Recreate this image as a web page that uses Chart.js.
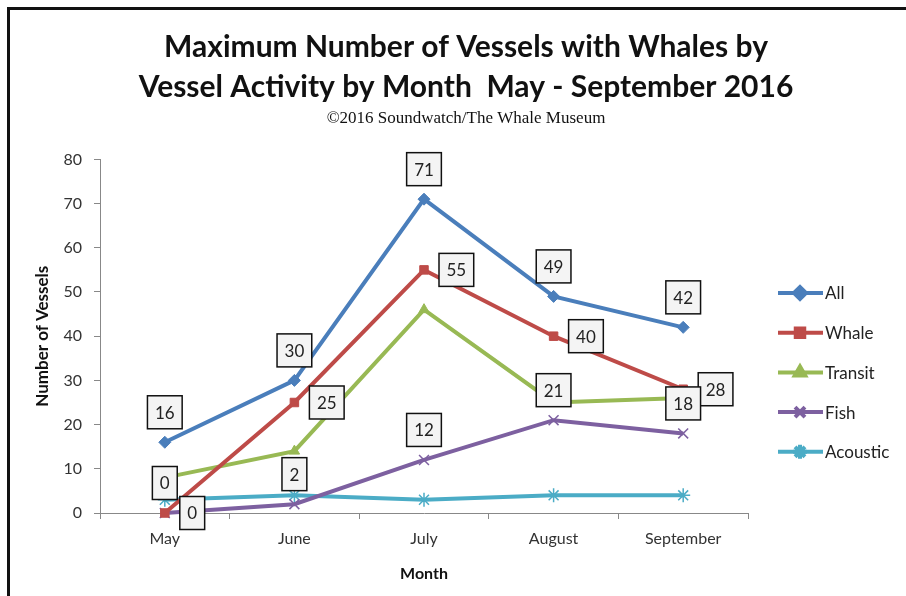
<!DOCTYPE html>
<html>
<head>
<meta charset="utf-8">
<script src="https://cdn.jsdelivr.net/npm/chart.js@4/dist/chart.umd.min.js"></script>
<style>
  html, body { margin: 0; padding: 0; background: #fff; overflow: hidden; }
  #frame {
    position: absolute; left: 7px; top: 7px;
    width: 1000px; height: 1000px;
    border: 3px solid #111;
  }
  #wrap { position: absolute; left: 0; top: 0; width: 906px; height: 596px; }
</style>
</head>
<body>
<div id="frame"></div>
<div id="wrap"><canvas id="vessels"></canvas></div>
<script>
const months = ['May', 'June', 'July', 'August', 'September'];
const allVessels = [16, 30, 71, 49, 42];
const whaleVessels = [0, 25, 55, 40, 28];
const transitVessels = [8, 14, 46, 25, 26];
const fishVessels = [0, 2, 12, 21, 18];
const acousticVessels = [3, 4, 3, 4, 4];

// which series get value boxes, and on which side of the point
const labelSide = { All: 'top', Whale: 'right', Fish: 'top' };

const FONT = 'Lato, "Open Sans", sans-serif';

function series(label, data, color, pointStyle, radius, pointBorderWidth) {
    return {
        label: label,
        data: data,
        borderColor: color,
        backgroundColor: color,
        pointBackgroundColor: color,
        pointBorderColor: color,
        borderWidth: 4,
        pointStyle: pointStyle,
        pointRadius: radius,
        pointHoverRadius: radius,
        pointBorderWidth: pointBorderWidth,
        tension: 0,
        clip: false
    };
}

// boxed value labels next to the points
const valueBoxes = {
    id: 'valueBoxes',
    afterDatasetsDraw(chart) {
        const ctx = chart.ctx;
        ctx.save();
        ctx.font = '17px ' + FONT;
        ctx.textAlign = 'center';
        ctx.textBaseline = 'middle';
        chart.data.datasets.forEach((ds, i) => {
            const side = labelSide[ds.label];
            if (!side) return;
            chart.getDatasetMeta(i).data.forEach((pt, j) => {
                const text = String(ds.data[j]);
                const w = ctx.measureText(text).width + 15;
                const h = 33;
                let cx, cy;
                if (side === 'top') {
                    cx = pt.x;
                    cy = pt.y - 30;
                } else {
                    cx = pt.x + 15 + w / 2;
                    cy = pt.y;
                }
                ctx.fillStyle = '#f4f4f4';
                ctx.fillRect(cx - w / 2, cy - h / 2, w, h);
                ctx.lineWidth = 1.5;
                ctx.strokeStyle = '#111';
                ctx.strokeRect(cx - w / 2, cy - h / 2, w, h);
                ctx.fillStyle = '#222';
                ctx.fillText(text, cx, cy + 1);
            });
        });
        ctx.restore();
    }
};

// legend on the right: line sample with the series marker
const sideLegend = {
    id: 'sideLegend',
    afterDraw(chart) {
        const ctx = chart.ctx;
        const x0 = chart.chartArea.right + 30;
        const y0 = 293;
        const gap = 39.7;
        ctx.save();
        chart.data.datasets.forEach((ds, i) => {
            const y = y0 + i * gap;
            ctx.strokeStyle = ds.borderColor;
            ctx.lineWidth = 4;
            ctx.beginPath();
            ctx.moveTo(x0, y);
            ctx.lineTo(x0 + 45, y);
            ctx.stroke();
            ctx.fillStyle = ds.pointBackgroundColor;
            ctx.strokeStyle = ds.pointBorderColor;
            Chart.helpers.drawPoint(ctx, {
                pointStyle: ds.pointStyle,
                radius: ds.pointRadius,
                borderWidth: ds.pointBorderWidth,
                rotation: 0
            }, x0 + 22, y);
            ctx.fillStyle = '#222';
            ctx.font = '17px ' + FONT;
            ctx.textAlign = 'left';
            ctx.textBaseline = 'middle';
            ctx.fillText(ds.label, x0 + 47, y + 1);
        });
        ctx.restore();
    }
};

new Chart(document.getElementById('vessels'), {
    type: 'line',
    data: {
        labels: months,
        datasets: [
            series('All', allVessels, '#4a7ebb', 'rectRot', 6, 1),
            series('Whale', whaleVessels, '#be4b48', 'rect', 6, 1),
            series('Transit', transitVessels, '#98b954', 'triangle', 6, 1),
            series('Fish', fishVessels, '#7d60a0', 'crossRot', 7, 1.5),
            series('Acoustic', acousticVessels, '#4bacc6', 'star', 7, 1.5)
        ]
    },
    options: {
        responsive: true,
        maintainAspectRatio: false,
        animation: false,
        events: [],
        layout: { padding: { left: 26, right: 0, top: 0, bottom: 0 } },
        plugins: {
            legend: { display: false },
            tooltip: { enabled: false },
            title: {
                display: true,
                text: ['Maximum Number of Vessels with Whales by', 'Vessel Activity by Month  May - September 2016'],
                color: '#111',
                font: { family: FONT, size: 30, weight: 'bold', lineHeight: 1.333 },
                padding: { top: 27, bottom: 0 }
            },
            subtitle: {
                display: true,
                text: '\u00a92016 Soundwatch/The Whale Museum',
                color: '#111',
                font: { family: '"Liberation Serif", serif', size: 17, lineHeight: 1.2 },
                padding: { top: 1, bottom: 31 }
            }
        },
        scales: {
            x: {
                offset: true,
                grid: {
                    offset: true,
                    drawOnChartArea: false,
                    drawTicks: true,
                    tickLength: 6,
                    color: '#888'
                },
                border: { color: '#888', width: 1 },
                ticks: {
                    color: '#333',
                    padding: 10,
                    font: { family: FONT, size: 16 }
                },
                title: {
                    display: true,
                    text: 'Month',
                    color: '#111',
                    font: { family: FONT, size: 16, weight: 'bold', lineHeight: 1.2 },
                    padding: { top: 0, bottom: 13 }
                },
                afterFit(scale) { scale.height = 83; }
            },
            y: {
                min: 0,
                max: 80,
                ticks: {
                    stepSize: 10,
                    color: '#333',
                    padding: 12,
                    font: { family: FONT, size: 16 }
                },
                grid: {
                    drawOnChartArea: false,
                    drawTicks: true,
                    tickLength: 6,
                    color: '#888'
                },
                border: { color: '#888', width: 1 },
                title: {
                    display: true,
                    text: 'Number of Vessels',
                    color: '#111',
                    font: { family: FONT, size: 17, weight: 'bold', lineHeight: 1.2 },
                    padding: { top: 6, bottom: 0 }
                },
                afterFit(scale) { scale.width = 74; }
            },
            // empty right-hand axis that keeps room for the legend
            legendSpace: {
                position: 'right',
                grid: { display: false },
                border: { display: false },
                ticks: { display: false },
                afterFit(scale) { scale.width = 158; }
            }
        }
    },
    plugins: [valueBoxes, sideLegend]
});
</script>
</body>
</html>
